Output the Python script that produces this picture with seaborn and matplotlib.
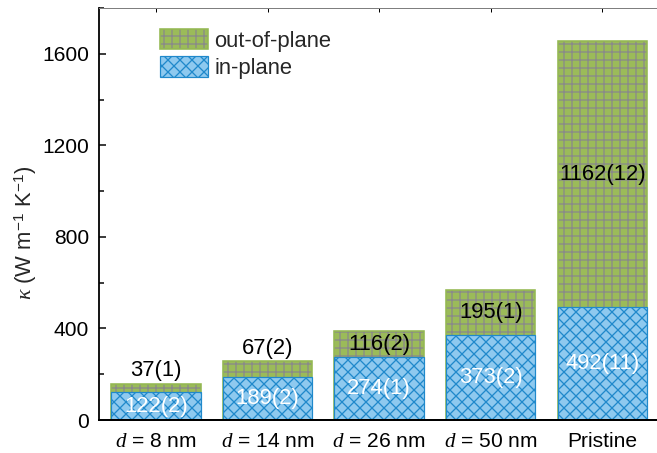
import matplotlib
matplotlib.use("Agg")
import matplotlib.pyplot as plt
from matplotlib.patches import Patch
from matplotlib.ticker import AutoMinorLocator
import numpy as np
import pandas as pd
import seaborn as sns

# Thermal conductivity of the samples, split into in-plane / out-of-plane parts
samples = [r"$d$ = 8 nm", r"$d$ = 14 nm", r"$d$ = 26 nm", r"$d$ = 50 nm", "Pristine"]
in_plane = [122, 189, 274, 373, 492]
in_plane_err = [2, 2, 1, 2, 11]
out_plane = [37, 67, 116, 195, 1162]
out_plane_err = [1, 2, 2, 1, 12]
legend_labels = ["out-of-plane", "in-plane"]
y_ticks = [0, 400, 800, 1200, 1600]

GREEN = "#9bbb59"
GREEN_EDGE = "#94b852"
GRID = "#8a8a8a"
BLUE = "#8ec9ef"
BLUE_DARK = "#2089cb"

sns.set_theme(style="ticks")
plt.rcParams["font.family"] = ["Liberation Sans", "DejaVu Sans"]
plt.rcParams["mathtext.fontset"] = "custom"
plt.rcParams["mathtext.it"] = "Liberation Serif:italic"
plt.rcParams["mathtext.rm"] = "Liberation Sans"
plt.rcParams["hatch.linewidth"] = 0.65

DPI = 144
fig = plt.figure(figsize=(657 / DPI, 453 / DPI), dpi=DPI)
ax = fig.add_axes([99 / 657, 1 - 420 / 453, 558 / 657, 412 / 453])

df = pd.DataFrame({"sample": samples, "in": in_plane, "out": out_plane})
df["total"] = df["in"] + df["out"]

# stacked top segment (full height) with grey grid hatch
n0 = len(ax.patches)
sns.barplot(data=df, x="sample", y="total", color=GREEN, saturation=1,
            width=0.8, errorbar=None, ax=ax)
for p in ax.patches[n0:]:
    p.set_hatch("+++")
    p.set_edgecolor(GRID)
    p.set_linewidth(0)
# green outline of the stacked bars
sns.barplot(data=df, x="sample", y="total", color=GREEN_EDGE, fill=False,
            width=0.8, errorbar=None, linewidth=0.8, ax=ax)

# in-plane part
n1 = len(ax.patches)
sns.barplot(data=df, x="sample", y="in", color=BLUE, saturation=1,
            width=0.8, errorbar=None, ax=ax)
for p in ax.patches[n1:]:
    p.set_hatch("xxxx")
    p.set_edgecolor(BLUE_DARK)
    p.set_linewidth(0.6)

FS_TICK = 10.5
FS_VAL = 11
# value labels
for i, (a, ae, b, be) in enumerate(zip(in_plane, in_plane_err, out_plane, out_plane_err)):
    ax.text(i, a / 2, f"{a}({ae})", ha="center", va="center",
            color="white", fontsize=FS_VAL)
    if b < 100:
        ax.text(i, a + b + 12, f"{b}({be})", ha="center", va="bottom",
                color="black", fontsize=FS_VAL)
    else:
        ax.text(i, a + b / 2, f"{b}({be})", ha="center", va="center",
                color="black", fontsize=FS_VAL)

ax.set_xlim(-0.51, 4.49)
ax.set_ylim(0, 1800)
ax.set_yticks(y_ticks)
ax.yaxis.set_minor_locator(AutoMinorLocator(2))
ax.set_xlabel("")
ax.set_ylabel(r"$\kappa$ (W m$^{-1}$ K$^{-1}$)", fontsize=11)
ax.yaxis.set_label_coords((39 - 99) / 558, (420 - 233) / 412)

ax.tick_params(axis="y", which="major", direction="in", length=3.5, width=0.75,
               labelsize=FS_TICK, pad=5, color="black", labelcolor="black")
ax.tick_params(axis="y", which="minor", direction="in", length=2.5, width=0.75,
               color="black")
ax.tick_params(axis="x", which="major", direction="in", top=True, length=2,
               width=0.5, labelsize=FS_TICK, pad=6, color="black", labelcolor="black")

ax.spines["right"].set_visible(False)
ax.spines["top"].set_color("#7f7f7f")
ax.spines["top"].set_linewidth(0.5)
ax.spines["left"].set_color("black")
ax.spines["left"].set_linewidth(0.9)
ax.spines["bottom"].set_color("black")
ax.spines["bottom"].set_linewidth(1.0)

h_out = (Patch(facecolor=GREEN, edgecolor=GRID, hatch="+++", linewidth=0),
         Patch(facecolor="none", edgecolor=GREEN_EDGE, linewidth=0.8))
h_in = Patch(facecolor=BLUE, edgecolor=BLUE_DARK, hatch="xxxx", linewidth=0.6)
ax.legend([h_out, h_in], legend_labels, loc="upper left",
          bbox_to_anchor=((160 - 99) / 558, (420 - 29) / 412),
          frameon=False, borderpad=0, borderaxespad=0, fontsize=11,
          handlelength=2.2, handleheight=1.05, handletextpad=0.27,
          labelspacing=0.2)

fig.savefig("out.png", dpi=DPI)
